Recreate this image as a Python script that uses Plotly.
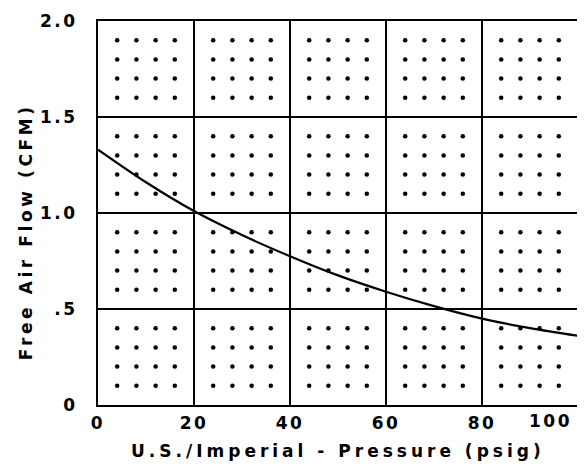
import plotly.graph_objects as go

# Curve
pressure_psig = [0, 10, 20, 30, 40, 50, 60, 70, 80, 90, 100]
free_air_cfm = [1.33, 1.16, 1.01, 0.885, 0.775, 0.675, 0.59, 0.515, 0.45, 0.40, 0.36]

# Tick labels
x_tickvals = [0, 20, 40, 60, 80]
x_ticktext = ["0", "20", "40", "60", "80"]
x_last_tick = 100
x_last_text = "100"
y_tickvals = [0, 0.5, 1.0, 1.5, 2.0]
y_ticktext = ["0", ".5", "1.0", "1.5", "2.0"]

x_title = "U.S./Imperial - Pressure (psig)"
y_title = "Free Air Flow (CFM)"

# Dot pattern positions inside each grid cell
dot_cols = [4, 8, 12, 16, 24, 28, 32, 36, 44, 48, 52, 56, 64, 68, 72, 76, 84, 88, 92, 96]
dot_rows = [0.1, 0.2, 0.3, 0.4, 0.6, 0.7, 0.8, 0.9, 1.1, 1.2, 1.3, 1.4, 1.6, 1.7, 1.8, 1.9]

FONT = "DejaVu Sans"
FS = 17


def spaced(t, ls=2.5):
    return f'<span style="letter-spacing:{ls}px"><b>{t}</b></span>'


dx, dy = [], []
for yy in dot_rows:
    for xx in dot_cols:
        dx.append(xx)
        dy.append(yy)

fig = go.Figure()
fig.add_trace(go.Scatter(x=dx, y=dy, mode="markers",
                         marker=dict(color="black", size=4.5), hoverinfo="skip",
                         showlegend=False))
fig.add_trace(go.Scatter(x=pressure_psig, y=free_air_cfm, mode="lines",
                         line=dict(color="black", width=2.2, shape="spline"),
                         showlegend=False))

fig.add_annotation(x=x_last_tick, y=0, xref="x", yref="paper", text=spaced(x_last_text),
                   showarrow=False, xanchor="right", yanchor="top", xshift=-4, yshift=-4,
                   font=dict(family=FONT, size=FS, color="black"))
fig.add_annotation(x=0.5, y=0, xref="paper", yref="paper", text=spaced(x_title, 4.0),
                   showarrow=False, xanchor="center", yanchor="middle", yshift=-46,
                   font=dict(family=FONT, size=FS, color="black"))
fig.add_annotation(x=0, y=0.45, xref="paper", yref="paper", text=spaced(y_title, 3.6),
                   showarrow=False, textangle=-90, xanchor="center", yanchor="middle",
                   xshift=-72, font=dict(family=FONT, size=FS, color="black"))

# The page body adds an 8px offset, so the figure is sized to fit the window
fig.update_layout(
    width=577, height=458,
    margin=dict(l=90, r=7, t=13, b=61),
    paper_bgcolor="white", plot_bgcolor="white",
    font=dict(family=FONT, size=FS, color="black"),
    xaxis=dict(range=[0, 100], tickvals=x_tickvals,
               ticktext=[spaced(t) for t in x_ticktext],
               showgrid=True, gridcolor="black", gridwidth=2,
               showline=True, linecolor="black", linewidth=2, mirror=True,
               zeroline=False, ticks="", ticklabelstandoff=2, automargin=False),
    yaxis=dict(range=[0, 2.0], tickvals=y_tickvals,
               ticktext=[spaced(t) for t in y_ticktext],
               showgrid=True, gridcolor="black", gridwidth=2,
               showline=True, linecolor="black", linewidth=2, mirror=True,
               zeroline=False, ticks="", ticklabelstandoff=15, automargin=False),
)

fig.write_html("out.html")
